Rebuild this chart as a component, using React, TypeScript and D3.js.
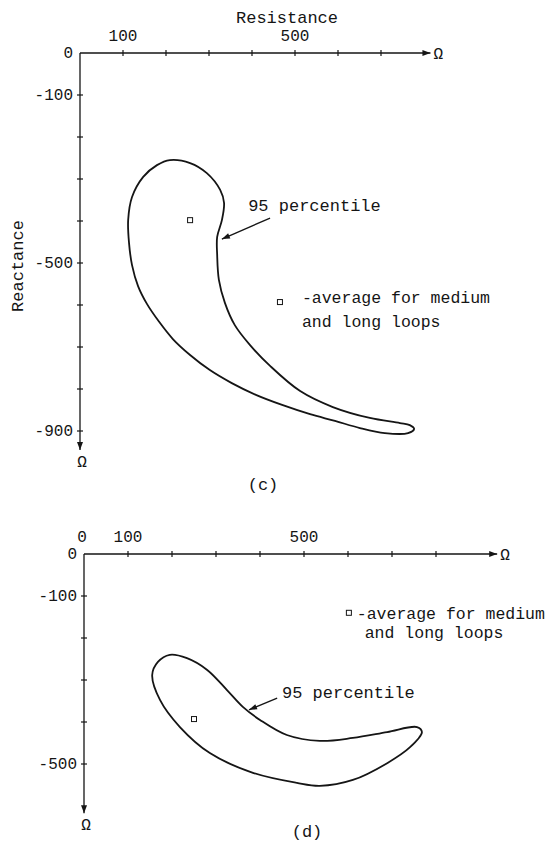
import React, { useEffect, useRef } from "react";
import * as d3 from "d3";

// panel (c) - 95 percentile contour (resistance, reactance in ohms)
const cResistance = [209, 256, 295, 326, 335, 330, 319, 319, 323, 337, 360, 395, 442, 512, 588, 674, 744, 767, 777, 763, 709, 651, 593, 535, 470, 409, 353, 302, 256, 216, 184, 156, 135, 121, 114, 112, 121, 147, 179];
const cReactance = [-255, -262, -286, -326, -357, -398, -438, -481, -540, -595, -648, -695, -745, -805, -843, -869, -881, -886, -895, -905, -905, -893, -876, -860, -838, -814, -786, -755, -719, -681, -640, -598, -555, -505, -452, -398, -343, -295, -267];
const cAverage = [256, -398];

// panel (d)
const dResistance = [195, 234, 280, 325, 361, 400, 461, 536, 611, 689, 757, 768, 741, 689, 611, 536, 484, 384, 286, 218, 173, 155, 168];
const dReactance = [-240, -248, -276, -324, -364, -395, -431, -445, -438, -424, -412, -424, -460, -498, -538, -552, -545, -521, -474, -412, -348, -288, -257];
const dAverage = [250, -393];

const cXTicks = [100, 200, 300, 400, 500, 600, 700];
const cYTicks = [-100, -200, -300, -400, -500, -600, -700, -800, -900];
const cXLabels = [100, 500];
const cYLabels = [0, -100, -500, -900];

const dXTicks = [100, 200, 300, 400, 500, 600, 700, 800];
const dYTicks = [-100, -200, -300, -400, -500];
const dXLabels = [0, 100, 500];
const dYLabels = [0, -100, -500];

const FONT = "'Liberation Mono', 'Courier New', monospace";
const INK = "#151515";

function App() {
  const ref = useRef<SVGSVGElement>(null);

  useEffect(() => {
    drawChart();
  }, []);

  function arrowHead(g: any, x1: number, y1: number, x2: number, y2: number, len: number, half: number) {
    const a = Math.atan2(y2 - y1, x2 - x1);
    const bx = x2 - len * Math.cos(a), by = y2 - len * Math.sin(a);
    const px = -Math.sin(a) * half, py = Math.cos(a) * half;
    g.append("path")
      .attr("d", `M${x2},${y2} L${bx + px},${by + py} L${bx - px},${by - py} Z`)
      .attr("fill", INK);
  }

  function drawPanel(svg: any, p: any) {
    const g = svg.append("g");
    const x = p.x, y = p.y;
    const x0 = x(0), y0 = y(0);

    // axes
    g.append("line").attr("x1", x0).attr("x2", x(p.xEnd)).attr("y1", y0).attr("y2", y0)
      .attr("stroke", INK).attr("stroke-width", 1.3);
    g.append("line").attr("x1", x0).attr("x2", x0).attr("y1", y0).attr("y2", y(p.yEnd))
      .attr("stroke", INK).attr("stroke-width", 1.3);
    arrowHead(g, x0, y0, x(p.xEnd), y0, 8, 3);
    arrowHead(g, x0, y0, x0, y(p.yEnd), 8, 3);

    g.selectAll(".xt").data(p.xTicks).join("line")
      .attr("x1", (d: number) => x(d)).attr("x2", (d: number) => x(d))
      .attr("y1", y0 - 3).attr("y2", y0 + 3)
      .attr("stroke", INK).attr("stroke-width", 1.2);
    g.selectAll(".yt").data(p.yTicks).join("line")
      .attr("x1", x0 - 3).attr("x2", x0 + 3)
      .attr("y1", (d: number) => y(d)).attr("y2", (d: number) => y(d))
      .attr("stroke", INK).attr("stroke-width", 1.2);

    const txt = (tx: number, ty: number, s: string, anchor = "start", size = 16) =>
      g.append("text").attr("x", tx).attr("y", ty).attr("text-anchor", anchor)
        .attr("font-family", FONT).attr("font-size", size).attr("fill", INK).text(s);

    p.xLabels.forEach((d: number) => txt(x(d) + (d === 0 ? -2 : 0), y0 - 12, String(d), "middle"));
    p.yLabels.forEach((d: number) => txt(x0 - 7, y(d) + 5, String(d), "end"));

    txt(x(p.xEnd) + 3, y0 + 6, "\u03A9", "start", 16);
    txt(x0 + 2, y(p.yEnd) + 17, "\u03A9", "middle", 16);

    // contour
    const line = d3.line<number>()
      .x((_, i) => x(p.res[i]))
      .y((_, i) => y(p.rea[i]))
      .curve(d3.curveCatmullRomClosed.alpha(0.5));
    g.append("path").attr("d", line(p.res))
      .attr("fill", "none").attr("stroke", INK).attr("stroke-width", 1.8);

    // average marker and legend square
    [p.avg, p.legSq].forEach((pt: number[]) => {
      g.append("rect").attr("x", x(pt[0]) - 2.5).attr("y", y(pt[1]) - 2.5)
        .attr("width", 5).attr("height", 5)
        .attr("fill", "white").attr("stroke", INK).attr("stroke-width", 1);
    });
    txt(x(p.leg1[0]), y(p.leg1[1]), "-average for medium", "start", 16.5);
    txt(x(p.leg2[0]), y(p.leg2[1]), "and long loops", "start", 16.5);

    // 95 percentile pointer
    const t0 = [x(p.ptrTail[0]), y(p.ptrTail[1])];
    const t1 = [x(p.ptrTip[0]), y(p.ptrTip[1])];
    g.append("line").attr("x1", t0[0]).attr("y1", t0[1]).attr("x2", t1[0]).attr("y2", t1[1])
      .attr("stroke", INK).attr("stroke-width", 1.3);
    arrowHead(g, t0[0], t0[1], t1[0], t1[1], 8, 2.8);
    txt(x(p.ptrText[0]), y(p.ptrText[1]), "95 percentile", "start", 17);

    txt(p.tagX, p.tagY, p.tag, "middle", 17);
  }

  function drawChart() {
    const svg = d3.select(ref.current);
    svg.selectAll("*").remove();

    const xC = d3.scaleLinear().domain([0, 800]).range([80, 80 + 344]);
    const yC = d3.scaleLinear().domain([0, -900]).range([53, 53 + 378]);
    drawPanel(svg, {
      x: xC, y: yC, xEnd: 815, yEnd: -945,
      xTicks: cXTicks, yTicks: cYTicks, xLabels: cXLabels, yLabels: cYLabels,
      res: cResistance, rea: cReactance, avg: cAverage,
      legSq: [465, -593], leg1: [516, -595], leg2: [516, -652],
      ptrTail: [442, -393], ptrTip: [330, -443], ptrText: [391, -376],
      tag: "(c)", tagX: 263, tagY: 490,
    });

    const xD = d3.scaleLinear().domain([0, 800]).range([84, 84 + 352]);
    const yD = d3.scaleLinear().domain([0, -500]).range([554, 764]);
    drawPanel(svg, {
      x: xD, y: yD, xEnd: 939, yEnd: -617,
      xTicks: dXTicks, yTicks: dYTicks, xLabels: dXLabels, yLabels: dYLabels,
      res: dResistance, rea: dReactance, avg: dAverage,
      legSq: [602, -140], leg1: [620, -155], leg2: [638, -200],
      ptrTail: [439, -343], ptrTip: [375, -371], ptrText: [450, -343],
      tag: "(d)", tagX: 307, tagY: 837,
    });

    svg.append("text").attr("x", 287).attr("y", 23).attr("text-anchor", "middle")
      .attr("font-family", FONT).attr("font-size", 17).attr("fill", INK).text("Resistance");
    svg.append("text").attr("transform", "translate(23,266) rotate(-90)").attr("text-anchor", "middle")
      .attr("font-family", FONT).attr("font-size", 17).attr("fill", INK).text("Reactance");
  }

  return (
    <div style={{ position: "absolute", left: 0, top: 0 }}>
      <svg ref={ref} width={560} height={843} style={{ display: "block", background: "white" }} />
    </div>
  );
}

export default App;
